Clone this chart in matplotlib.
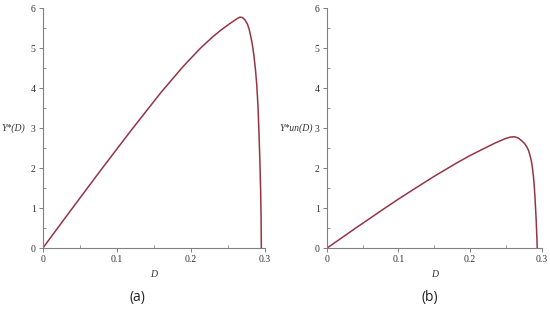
import matplotlib
matplotlib.use("Agg")
import matplotlib.pyplot as plt
from matplotlib.ticker import MultipleLocator

# curve (a): Y*(D)
d_a = [0, 0.04, 0.08, 0.12, 0.16, 0.19, 0.213, 0.23, 0.2405, 0.2515, 0.2586,
       0.2635, 0.2666, 0.270, 0.2735, 0.2766, 0.2790, 0.2811, 0.2835, 0.2856,
       0.2875, 0.2892, 0.2910, 0.2923, 0.2936, 0.2946, 0.2952, 0.2955]
y_a = [0, 1.0, 1.99, 2.96, 3.9, 4.55, 5.0, 5.29, 5.45, 5.6, 5.69,
       5.75, 5.78, 5.77, 5.71, 5.61, 5.48, 5.31, 5.08, 4.80,
       4.48, 4.12, 3.55, 2.90, 2.15, 1.40, 0.75, 0]

# curve (b): Y*un(D)
d_b = [0, 0.04, 0.08, 0.1, 0.12, 0.15, 0.18, 0.2, 0.22, 0.2347, 0.2487,
       0.2560, 0.2617, 0.2670, 0.272, 0.2760, 0.279, 0.2815, 0.2835, 0.2853,
       0.2868, 0.2884, 0.2896, 0.2906, 0.2915, 0.2923, 0.2929, 0.2934, 0.2937]
y_b = [0, 0.5, 0.99, 1.23, 1.46, 1.8, 2.12, 2.32, 2.5, 2.63, 2.74,
       2.78, 2.79, 2.76, 2.69, 2.62, 2.54, 2.45, 2.33, 2.20,
       2.04, 1.80, 1.54, 1.26, 0.96, 0.68, 0.40, 0.18, 0]

xticks = [0, 0.1, 0.2, 0.3]
xticklabels = ["0", "0.1", "0.2", "0.3"]
yticks = [0, 1, 2, 3, 4, 5, 6]

line_color = "#933545"
axis_color = "#808080"

fig = plt.figure(figsize=(5.5, 3.17), dpi=100)

panels = [
    ([0.0776, 0.2167, 0.4036, 0.757], d_a, y_a, "Y*(D)", 0.0235, "(a)", 0.249),
    ([0.594, 0.2167, 0.391, 0.757], d_b, y_b, "Y*un(D)", 0.538, "(b)", 0.782),
]

for rect, xs, ys, ylab, ylab_x, cap, cap_x in panels:
    ax = fig.add_axes(rect)
    ax.plot(xs, ys, color=line_color, lw=1.1, solid_joinstyle="round")
    ax.set_xlim(0, 0.3)
    ax.set_ylim(0, 6)
    for s in ["top", "right"]:
        ax.spines[s].set_visible(False)
    for s in ["left", "bottom"]:
        ax.spines[s].set_color(axis_color)
        ax.spines[s].set_linewidth(0.8)
    ax.set_xticks(xticks)
    ax.set_xticklabels(xticklabels)
    ax.set_yticks(yticks)
    ax.xaxis.set_minor_locator(MultipleLocator(0.05))
    ax.yaxis.set_minor_locator(MultipleLocator(0.5))
    ax.tick_params(which="major", length=3, width=0.7, color=axis_color,
                   direction="out", labelsize=7, pad=2, labelcolor="#333333")
    ax.tick_params(which="minor", length=2, width=0.6, color=axis_color,
                   direction="in")
    for lbl in ax.get_xticklabels() + ax.get_yticklabels():
        lbl.set_family("Liberation Serif")
    ax.set_xlabel("D", family="Liberation Serif", style="italic", fontsize=7,
                  color="#333333", labelpad=4)
    fig.text(ylab_x, 0.596, ylab, family="Liberation Serif", style="italic",
             fontsize=7, color="#333333", ha="center", va="center")
    fig.text(cap_x, 0.063, cap, family="Open Sans", fontsize=10,
             color="#222222", ha="center", va="center")

fig.savefig("out.png", dpi=100)
